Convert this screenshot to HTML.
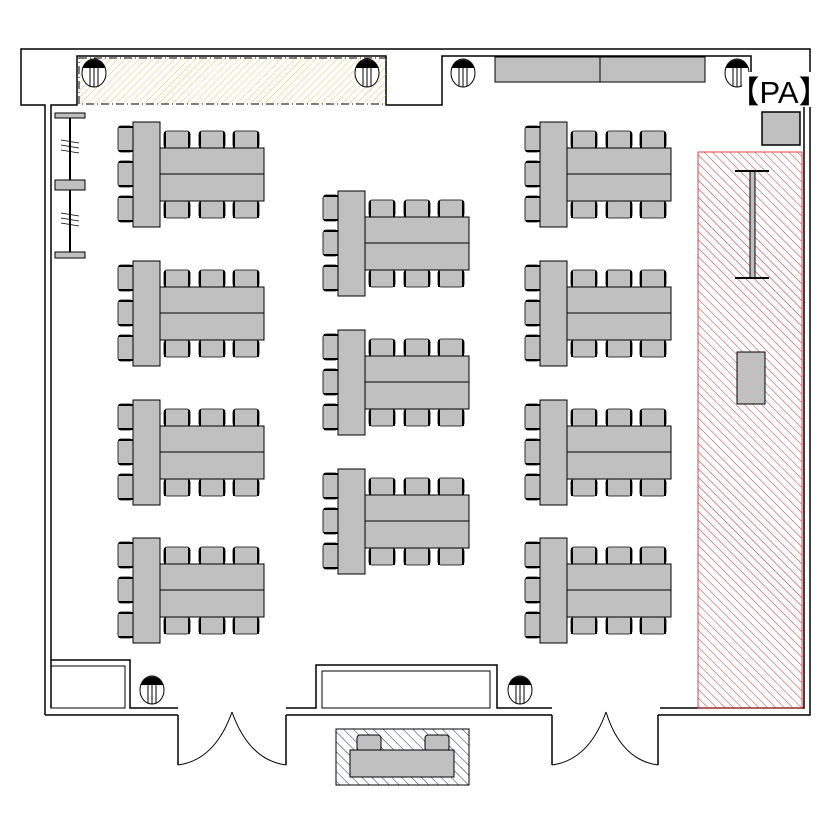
<!DOCTYPE html>
<html><head><meta charset="utf-8"><style>
html,body{margin:0;padding:0;background:#fff;}
svg{display:block;}
</style></head><body>
<svg width="840" height="835" viewBox="0 0 840 835" xmlns="http://www.w3.org/2000/svg">
<defs>
<pattern id="yh" patternUnits="userSpaceOnUse" width="5" height="5" patternTransform="rotate(45)">
<line x1="0" y1="0" x2="0" y2="5" stroke="#d8cc70" stroke-width="1"/></pattern>
<pattern id="rh" patternUnits="userSpaceOnUse" width="6" height="6" patternTransform="rotate(-45)">
<line x1="0" y1="0" x2="0" y2="6" stroke="#c83030" stroke-width="1"/></pattern>
<pattern id="bh" patternUnits="userSpaceOnUse" width="7" height="7" patternTransform="rotate(-45)">
<line x1="0" y1="0" x2="0" y2="7" stroke="#203050" stroke-width="1"/></pattern>
<g id="ct"><rect x="0" y="0" width="26" height="17" rx="3" fill="#c0c0c0" stroke="#000" stroke-width="0.8"/>
<line x1="1" y1="1" x2="1" y2="17" stroke="#000" stroke-width="2"/><line x1="25" y1="1" x2="25" y2="17" stroke="#000" stroke-width="2"/></g>
<g id="cl"><rect x="0" y="0" width="15" height="26" rx="3" fill="#c0c0c0" stroke="#000" stroke-width="0.8"/>
<line x1="1" y1="1" x2="15" y2="1" stroke="#000" stroke-width="2"/><line x1="1" y1="25" x2="15" y2="25" stroke="#000" stroke-width="2"/></g>
<g id="grp">
<use href="#cl" x="118" y="126"/><use href="#cl" x="118" y="161"/><use href="#cl" x="118" y="196"/>
<use href="#ct" x="164" y="131"/><use href="#ct" x="199" y="131"/><use href="#ct" x="233" y="131"/>
<use href="#ct" x="164" y="201"/><use href="#ct" x="199" y="201"/><use href="#ct" x="233" y="201"/>
<rect x="160" y="148" width="104" height="53" fill="#c0c0c0" stroke="#000"/>
<line x1="160" y1="174" x2="264" y2="174" stroke="#000"/>
<rect x="133" y="122" width="27" height="105" fill="#c0c0c0" stroke="#000"/>
</g>
<g id="col"><ellipse cx="0" cy="0" rx="12" ry="14" fill="#fff" stroke="#000"/>
<path d="M-11,-5 A12,14 0 0 1 11,-5 Z" fill="#000"/>
<line x1="-4" y1="-5" x2="-4" y2="13" stroke="#000"/><line x1="4" y1="-5" x2="4" y2="13" stroke="#000"/><line x1="0" y1="-5" x2="0" y2="14" stroke="#000"/></g>
</defs>
<g fill="none" stroke="#000" stroke-width="1.5">
<polyline points="45,715 45,105 21,105 21,49 810,49 810,715 658,715"/>
<polyline points="552,715 286,715"/><polyline points="178,715 45,715"/>
<polyline points="51,708 51,105 77,105 77,56 386,56 386,105 442,105 442,56 751,56 751,105 804,105 804,708 660,708"/>
<line x1="178" y1="715" x2="178" y2="765"/><line x1="286" y1="715" x2="286" y2="765"/>
<line x1="552" y1="715" x2="552" y2="765"/><line x1="658" y1="715" x2="658" y2="765"/>
<polyline points="51,660 130,660 130,708 178,708"/>
<polyline points="286,708 316,708 316,665 497,665 497,708 552,708"/>
</g>
<g fill="none" stroke="#000" stroke-width="1">
<rect x="51" y="666" width="74" height="42"/>
<rect x="322" y="671" width="168" height="37"/>
<path d="M178,765 Q215,760 232,712 M286,765 Q249,760 232,712"/>
<path d="M552,765 Q589,760 606,712 M658,765 Q621,760 606,712"/>
</g>
<rect x="79" y="58" width="307" height="46" fill="url(#yh)" stroke="#000" stroke-dasharray="8,3,1,3"/>
<use href="#col" x="94" y="73"/><use href="#col" x="367" y="73"/><use href="#col" x="463" y="73"/><use href="#col" x="737" y="73"/>
<use href="#col" x="152" y="690"/><use href="#col" x="520" y="690"/>
<rect x="495" y="57" width="105" height="25" fill="#c0c0c0" stroke="#000"/>
<rect x="600" y="57" width="105" height="25" fill="#c0c0c0" stroke="#000"/>
<rect x="742" y="72" width="76" height="35" fill="#fff"/>
<text x="779" y="103" font-family="Liberation Sans, sans-serif" font-size="31" text-anchor="middle" fill="#000">【PA】</text>
<rect x="762" y="112" width="38" height="33" fill="#c0c0c0" stroke="#000" stroke-width="1.5"/>
<rect x="698" y="152" width="104" height="556" fill="url(#rh)" stroke="#e04040"/>
<rect x="750" y="171" width="5" height="107" fill="#c0c0c0" stroke="#000"/>
<line x1="735" y1="171" x2="769" y2="171" stroke="#000" stroke-width="2"/>
<line x1="735" y1="278" x2="769" y2="278" stroke="#000" stroke-width="2"/>
<rect x="737" y="352" width="28" height="52" fill="#c0c0c0" stroke="#000"/>
<line x1="70" y1="113" x2="70" y2="258" stroke="#000" stroke-width="2"/>
<rect x="55" y="113" width="30" height="5" fill="#c0c0c0" stroke="#000"/>
<rect x="55" y="180" width="30" height="10" fill="#c0c0c0" stroke="#000"/>
<rect x="55" y="252" width="30" height="6" fill="#c0c0c0" stroke="#000"/>
<g stroke="#000" stroke-width="0.8"><path d="M61,140 L79,143 M61,145 L79,148 M61,150 L79,153 M61,213 L79,216 M61,218 L79,221 M61,223 L79,226"/></g>
<use href="#grp"/><use href="#grp" y="139"/><use href="#grp" y="278"/><use href="#grp" y="416"/>
<use href="#grp" x="205" y="69"/><use href="#grp" x="205" y="208"/><use href="#grp" x="205" y="347"/>
<use href="#grp" x="407"/><use href="#grp" x="407" y="139"/><use href="#grp" x="407" y="278"/><use href="#grp" x="407" y="416"/>
<rect x="336" y="729" width="133" height="56" fill="url(#bh)" stroke="#000"/>
<rect x="357" y="735" width="24" height="16" rx="3" fill="#c0c0c0" stroke="#000"/>
<rect x="425" y="735" width="24" height="16" rx="3" fill="#c0c0c0" stroke="#000"/>
<rect x="350" y="750" width="104" height="27" fill="#c0c0c0" stroke="#000"/>
</svg>
</body></html>
